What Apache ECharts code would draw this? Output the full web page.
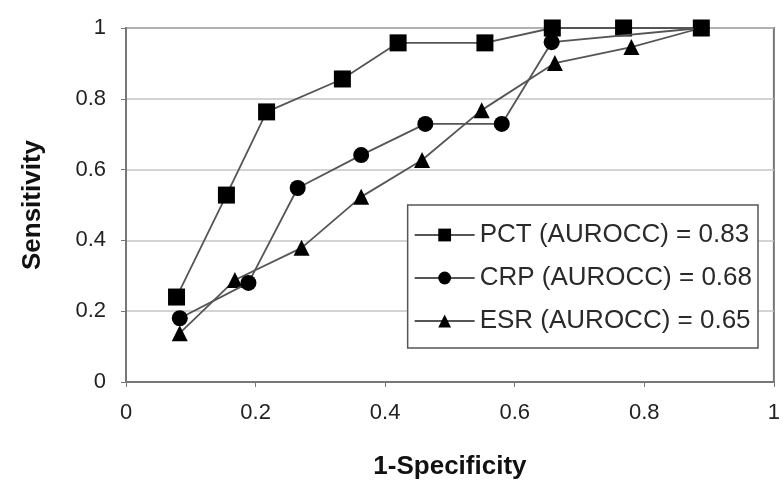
<!DOCTYPE html>
<html>
<head>
<meta charset="utf-8">
<script src="https://cdn.jsdelivr.net/npm/echarts@6/dist/echarts.min.js"></script>
<style>
  html, body { margin: 0; padding: 0; background: #fff; }
  #chart { width: 783px; height: 487px; }
</style>
</head>
<body>
<div id="chart"></div>
<script>
// ROC curves: 1-specificity (x) against sensitivity (y)
const seriesNames = ['PCT (AUROCC) = 0.83', 'CRP (AUROCC) = 0.68', 'ESR (AUROCC) = 0.65'];

const pctX = [0.078, 0.155, 0.217, 0.334, 0.42, 0.554, 0.658, 0.768, 0.888];
const pctY = [0.24, 0.528, 0.763, 0.856, 0.958, 0.958, 1.0, 1.0, 1.0];

const crpX = [0.083, 0.189, 0.265, 0.363, 0.462, 0.58, 0.657, 0.888];
const crpY = [0.18, 0.28, 0.548, 0.641, 0.729, 0.729, 0.96, 1.0];

const esrX = [0.083, 0.168, 0.271, 0.363, 0.457, 0.549, 0.662, 0.78, 0.888];
const esrY = [0.138, 0.288, 0.379, 0.523, 0.627, 0.768, 0.901, 0.946, 1.0];

const axisTicks = [0, 0.2, 0.4, 0.6, 0.8, 1];

const pairs = (xs, ys) => xs.map((x, i) => [x, ys[i]]);

const lineStyle = { color: '#555', width: 1.8 };
const markerStyle = { color: '#000' };

const chart = echarts.init(document.getElementById('chart'), null, { renderer: 'canvas' });
chart.setOption({
  backgroundColor: '#fff',
  animation: false,
  textStyle: { fontFamily: 'Liberation Sans, Arial, sans-serif' },
  grid: {
    left: 126, right: 7, top: 28, bottom: 105,
    show: true, borderColor: '#777', borderWidth: 2, backgroundColor: 'transparent'
  },
  legend: {
    orient: 'vertical',
    right: 25, top: 205,
    padding: [17, 6, 14, 6],
    itemWidth: 60, itemHeight: 16, itemGap: 17,
    borderColor: '#555', borderWidth: 1.5,
    backgroundColor: '#fff',
    textStyle: { fontSize: 26, color: '#2a2a2a', fontFamily: 'Liberation Sans, Arial, sans-serif' },
    data: seriesNames
  },
  xAxis: {
    type: 'value', min: axisTicks[0], max: axisTicks[axisTicks.length - 1], interval: 0.2,
    name: '1-Specificity', nameLocation: 'middle', nameGap: 72,
    nameTextStyle: { fontSize: 26, fontWeight: 'bold', color: '#111' },
    axisLine: { show: true, lineStyle: { color: '#777', width: 2 } },
    axisTick: { show: true, length: 5, lineStyle: { color: '#777' } },
    axisLabel: { fontSize: 22, color: '#222', margin: 20 },
    splitLine: { show: false }
  },
  yAxis: {
    type: 'value', min: axisTicks[0], max: axisTicks[axisTicks.length - 1], interval: 0.2,
    name: 'Sensitivity', nameLocation: 'middle', nameGap: 80,
    nameTextStyle: { fontSize: 26, fontWeight: 'bold', color: '#111' },
    axisLine: { show: true, lineStyle: { color: '#777', width: 2 } },
    axisTick: { show: true, length: 5, lineStyle: { color: '#777' } },
    axisLabel: { fontSize: 22, color: '#222', margin: 20 },
    splitLine: { show: true, lineStyle: { color: '#c4c4c4', width: 1.5 } }
  },
  series: [
    {
      name: seriesNames[0], type: 'line', data: pairs(pctX, pctY),
      symbol: 'rect', symbolSize: 17, lineStyle: lineStyle, itemStyle: markerStyle, z: 3
    },
    {
      name: seriesNames[1], type: 'line', data: pairs(crpX, crpY),
      symbol: 'circle', symbolSize: 16, lineStyle: lineStyle, itemStyle: markerStyle, z: 4
    },
    {
      name: seriesNames[2], type: 'line', data: pairs(esrX, esrY),
      symbol: 'triangle', symbolSize: 16, lineStyle: lineStyle, itemStyle: markerStyle, z: 2
    }
  ]
});
</script>
</body>
</html>
